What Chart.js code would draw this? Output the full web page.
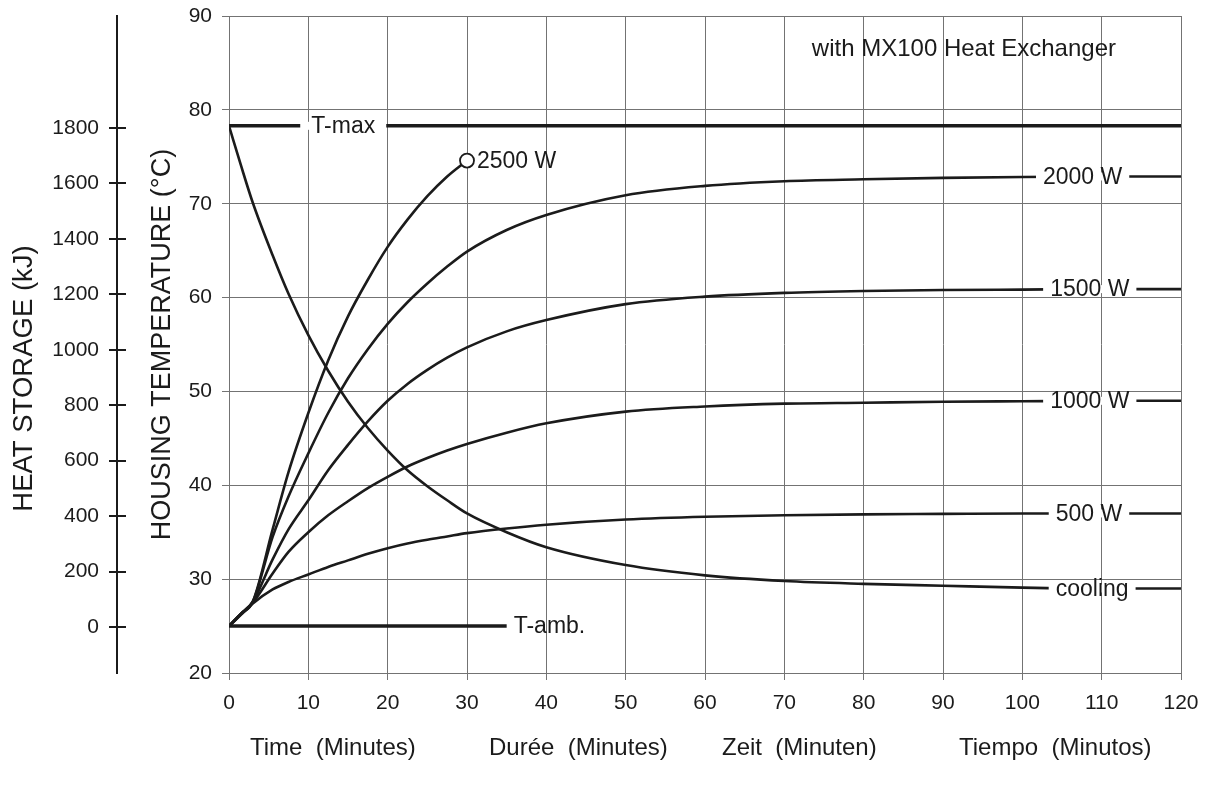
<!DOCTYPE html>
<html>
<head>
<meta charset="utf-8">
<title>MX100 heat exchanger</title>
<script src="https://cdn.jsdelivr.net/npm/chart.js@4.4.1/dist/chart.umd.min.js"></script>
<style>
  html, body { margin: 0; padding: 0; background: #fff; }
  #wrap { width: 1205px; height: 785px; }
</style>
</head>
<body>
<div id="wrap"><canvas id="chart" width="1205" height="785"></canvas></div>
<script>
// time (minutes) shared by every curve
var minutes = [0, 1.5, 3, 5.5, 7.5, 10, 12.5, 15, 17.5, 20, 22.5, 25, 27.5, 30, 35, 40, 50, 60, 70, 80, 90, 100, 110, 120];

// housing temperature (°C), one value per minute above
var w2500 = [25, 26.3, 27.6, 35.3, 41.4, 47.7, 53.3, 58.0, 61.9, 65.4, 68.3, 70.8, 72.9, 74.6];
var w2000 = [25, 26.3, 27.6, 34.5, 38.8, 43.4, 47.7, 51.4, 54.5, 57.2, 59.5, 61.5, 63.3, 64.9, 67.2, 68.8, 70.9, 71.9, 72.4, 72.6, 72.75, 72.85, 72.9, 72.9];
var w1500 = [25, 26.3, 27.6, 32.1, 35.3, 38.4, 41.6, 44.3, 46.8, 49.0, 50.8, 52.3, 53.6, 54.7, 56.4, 57.6, 59.3, 60.1, 60.5, 60.7, 60.8, 60.85, 60.9, 60.9];
var w1000 = [25, 26.3, 27.5, 30.6, 32.9, 35.0, 36.8, 38.3, 39.7, 40.9, 42.0, 42.9, 43.7, 44.4, 45.6, 46.6, 47.85, 48.4, 48.7, 48.8, 48.9, 48.95, 49.0, 49.0];
var w500  = [25, 26.2, 27.4, 28.9, 29.7, 30.5, 31.3, 32.0, 32.7, 33.3, 33.8, 34.2, 34.55, 34.9, 35.4, 35.8, 36.35, 36.65, 36.8, 36.9, 36.95, 37.0, 37.0, 37.0];
var cooling = [78.3, 74.1, 70.1, 64.5, 60.4, 56.0, 52.2, 48.9, 46.1, 43.7, 41.6, 39.9, 38.4, 37.0, 35.0, 33.4, 31.5, 30.4, 29.8, 29.5, 29.3, 29.1, 29.0, 29.0];

// reference lines
var tMax = 78.3;
var tAmb = 25;
var tAmbEnd = 35;

// ticks
var timeTicks = [0, 10, 20, 30, 40, 50, 60, 70, 80, 90, 100, 110, 120];
var tempTicks = [20, 30, 40, 50, 60, 70, 80, 90];
var heatTicks = [0, 200, 400, 600, 800, 1000, 1200, 1400, 1600, 1800];
// heat storage scale (kJ) at the bottom and top of the temperature axis
var heatRange = [-166, 2204];

var curveNames = ['2000 W', '1500 W', '1000 W', '500 W', 'cooling'];
var curveNameAt = [107.6, 108.5, 108.5, 108.4, 108.8];   // minute where each name sits
var bottomTitles = ['Time  (Minutes)', 'Durée  (Minutes)', 'Zeit  (Minuten)', 'Tiempo  (Minutos)'];

var ink = '#1b1b1b';
var gridColor = '#737373';
var fontFamily = "'Liberation Sans', Arial, Helvetica, sans-serif";

function points(values) {
  return values.map(function (v, i) { return { x: minutes[i], y: v }; });
}

function curve(values, extra) {
  var ds = { data: points(values), borderColor: ink, borderWidth: 2.6, pointRadius: 0, cubicInterpolationMode: 'monotone' };
  return Object.assign(ds, extra || {});
}

var datasets = [
  curve(w2500, {
    pointRadius: function (c) { return c.dataIndex === w2500.length - 1 ? 7 : 0; },
    pointBackgroundColor: '#fff', pointBorderColor: ink, pointBorderWidth: 1.8
  }),
  curve(w2000, { tag: 0 }),
  curve(w1500, { tag: 1 }),
  curve(w1000, { tag: 2 }),
  curve(w500, { tag: 3 }),
  curve(cooling, { tag: 4 }),
  { data: [{ x: 0, y: tMax }, { x: 120, y: tMax }], borderColor: ink, borderWidth: 3.4, pointRadius: 0 },
  { data: [{ x: 0, y: tAmb }, { x: tAmbEnd, y: tAmb }], borderColor: ink, borderWidth: 3.4, pointRadius: 0 }
];

function gapLabel(ctx, text, px, py, gapW) {
  var w = gapW || ctx.measureText(text).width + 14;
  ctx.fillStyle = '#fff';
  ctx.fillRect(px - w / 2, py - 4, w, 8);
  ctx.fillStyle = ink;
  ctx.fillText(text, px, py + 1);
}

// no extra room for the first/last tick label, the padding below decides
function noPad(s) {
  s.paddingTop = 0; s.paddingBottom = 0; s.paddingLeft = 0; s.paddingRight = 0;
}

// draws the texts written on the chart, the axis titles and the crossing ticks
var annotate = {
  id: 'annotate',
  afterDraw: function (chart) {
    var ctx = chart.ctx, sx = chart.scales.x, sy = chart.scales.y, sh = chart.scales.yHeat;
    var area = chart.chartArea;
    ctx.save();

    // heat storage ticks cross their axis line
    ctx.strokeStyle = ink;
    ctx.lineWidth = 2;
    heatTicks.forEach(function (v) {
      var py = Math.round(sh.getPixelForValue(v));
      ctx.beginPath();
      ctx.moveTo(sh.right, py);
      ctx.lineTo(sh.right + 9, py);
      ctx.stroke();
    });

    ctx.font = '23px ' + fontFamily;
    ctx.textBaseline = 'middle';
    ctx.textAlign = 'center';

    // names of the curves, sitting on their right end
    chart.data.datasets.forEach(function (ds) {
      if (ds.tag === undefined) return;
      var last = ds.data[ds.data.length - 1].y;
      gapLabel(ctx, curveNames[ds.tag], sx.getPixelForValue(curveNameAt[ds.tag]), sy.getPixelForValue(last));
    });

    gapLabel(ctx, 'T-max', sx.getPixelForValue(14.4), sy.getPixelForValue(tMax), 86);

    ctx.textAlign = 'left';
    ctx.fillStyle = ink;
    ctx.fillText('T-amb.', sx.getPixelForValue(tAmbEnd) + 7, sy.getPixelForValue(tAmb) + 1);
    ctx.fillText('2500 W', sx.getPixelForValue(30) + 10, sy.getPixelForValue(w2500[w2500.length - 1]) + 1);

    ctx.font = '24px ' + fontFamily;
    ctx.textAlign = 'right';
    ctx.fillText('with MX100 Heat Exchanger', area.right - 65, area.top + 33);

    // bottom titles in four languages
    ctx.textAlign = 'left';
    ctx.font = '24px ' + fontFamily;
    var starts = [250, 489, 722, 959];
    bottomTitles.forEach(function (t, i) { ctx.fillText(t, starts[i], 748); });

    // rotated axis titles
    ctx.textAlign = 'center';
    ctx.font = '27px ' + fontFamily;
    ctx.save();
    ctx.translate(163, (area.top + area.bottom) / 2);
    ctx.rotate(-Math.PI / 2);
    ctx.fillText('HOUSING TEMPERATURE (°C)', 0, 0);
    ctx.restore();
    ctx.font = '27.5px ' + fontFamily;
    ctx.save();
    ctx.translate(24, sh.getPixelForValue(900) + 1);
    ctx.rotate(-Math.PI / 2);
    ctx.fillText('HEAT STORAGE (kJ)', 0, 0);
    ctx.restore();

    ctx.restore();
  }
};

var tickFont = { family: fontFamily, size: 21 };

new Chart(document.getElementById('chart'), {
  type: 'line',
  data: { datasets: datasets },
  options: {
    responsive: false,
    animation: false,
    devicePixelRatio: 1,
    layout: { padding: { top: 16, right: 24, left: 0, bottom: 0 } },
    plugins: { legend: { display: false }, tooltip: { enabled: false } },
    scales: {
      x: {
        type: 'linear', min: 0, max: 120,
        afterBuildTicks: function (s) { s.ticks = timeTicks.map(function (v) { return { value: v }; }); },
        afterFit: function (s) { s.height = 112; noPad(s); },
        grid: { color: gridColor, lineWidth: 1, tickLength: 7 },
        border: { color: gridColor, width: 1 },
        ticks: { font: tickFont, color: ink, padding: 11, maxRotation: 0, autoSkip: false }
      },
      y: {
        type: 'linear', position: 'left', weight: 0, min: 20, max: 90,
        afterBuildTicks: function (s) { s.ticks = tempTicks.map(function (v) { return { value: v }; }); },
        afterFit: function (s) { s.width = 112; noPad(s); },
        grid: { color: gridColor, lineWidth: 1, tickLength: 7 },
        border: { color: gridColor, width: 1 },
        ticks: { font: tickFont, color: ink, padding: 10 }
      },
      yHeat: {
        type: 'linear', position: 'left', weight: 1, min: heatRange[0], max: heatRange[1],
        afterBuildTicks: function (s) { s.ticks = heatTicks.map(function (v) { return { value: v }; }); },
        afterFit: function (s) { s.width = 117; noPad(s); },
        grid: { drawOnChartArea: false, color: ink, lineWidth: 2, tickLength: 8 },
        border: { color: ink, width: 2 },
        ticks: { font: tickFont, color: ink, padding: 10, callback: function (v) { return String(v); } }
      }
    }
  },
  plugins: [annotate]
});
</script>
</body>
</html>
